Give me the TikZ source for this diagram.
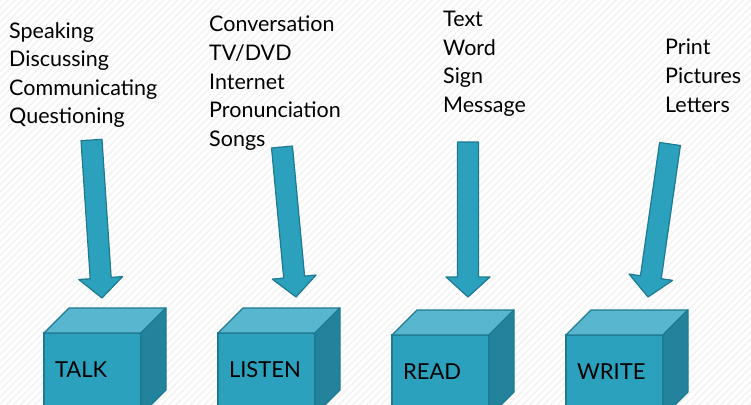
\documentclass[tikz,border=0pt]{standalone}
\usepackage{fontspec}
\setmainfont{Lato}
\usepackage{xcolor}
\usetikzlibrary{calc,patterns.meta}
\definecolor{cubefront}{HTML}{2CA1BE}
\definecolor{cubetop}{HTML}{58B6CE}
\definecolor{cubeside}{HTML}{23839C}
\definecolor{cubeedge}{HTML}{1D7A90}
\tikzset{
  listtext/.style={anchor=north west,inner sep=0pt,align=left,font=\fontsize{21.5}{28.6}\selectfont},
  cubebox/.style={draw=cubeedge,fill=cubefront,line width=1.2pt,anchor=north west,outer sep=0pt,
    minimum width=97pt,minimum height=82pt,text width=75pt,inner xsep=11pt,align=left,
    text height=15pt,text depth=9pt,font=\fontsize{22}{24}\selectfont},
  topface/.style={draw=cubeedge,fill=cubetop,line width=1.2pt,line join=round},
  sideface/.style={draw=cubeedge,fill=cubeside,line width=1.2pt,line join=round},
  blockarrow/.style={draw=cubeedge,fill=cubefront,line width=1.2pt,line join=round}
}

\begin{document}
\begin{tikzpicture}[x=1pt,y=-1pt]
    \useasboundingbox (0,0) rectangle (751,404);
    \clip (0,0) rectangle (751,404);
    \fill[white] (0,0) rectangle (751,404);
    \fill[pattern={Lines[angle=45,distance=5pt,line width=1.4pt]},pattern color=black!5] (0,0) rectangle (751,404);
    % word lists
    \node[listtext] (talklist) at (9,22) {Speaking\\Discussing\\Communicating\\Questioning};
    \node[listtext] (listenlist) at (209,16) {Conversation\\TV/DVD\\Internet\\Pronunciation\\Songs};
    \node[listtext] (readlist) at (443,11) {Text\\Word\\Sign\\Message};
    \node[listtext] (writelist) at (665,39) {Print\\Pictures\\Letters};
    % cubes
    \node[cubebox] (talk) at (44,333) {TALK};
    \node[cubebox] (listen) at (218,333) {LISTEN};
    \node[cubebox] (read) at (392,335) {READ};
    \node[cubebox] (write) at (566,335) {WRITE};
    \foreach \c in {talk,listen,read,write}
    {
      \draw[topface] (\c.north west) -- ++(25,-25) -- ++(97,0) -- (\c.north east) -- cycle;
      \draw[sideface] (\c.north east) -- ++(25,-25) -- ++(0,82) -- (\c.south east) -- cycle;
    }
    % arrows
    \coordinate (talktop) at (91.5,140);
    \coordinate (talktip) at (102,298);
    \coordinate (listentop) at (282,147);
    \coordinate (listentip) at (296,297);
    \coordinate (readtop) at (468,142);
    \coordinate (readtip) at (468,297);
    \coordinate (writetop) at (670,144);
    \coordinate (writetip) at (648,297);
    \foreach \c in {talk,listen,read,write}
    {
      \coordinate (h) at ($(\c tip)!20pt!(\c top)$);
      \draw[blockarrow] ($(\c top)!10.5pt!90:(\c tip)$) -- ($(h)!10.5pt!90:(\c tip)$)
        -- ($(h)!22pt!90:(\c tip)$) -- (\c tip) -- ($(h)!22pt!-90:(\c tip)$)
        -- ($(h)!10.5pt!-90:(\c tip)$) -- ($(\c top)!10.5pt!-90:(\c tip)$) -- cycle;
    }
\end{tikzpicture}
\end{document}
